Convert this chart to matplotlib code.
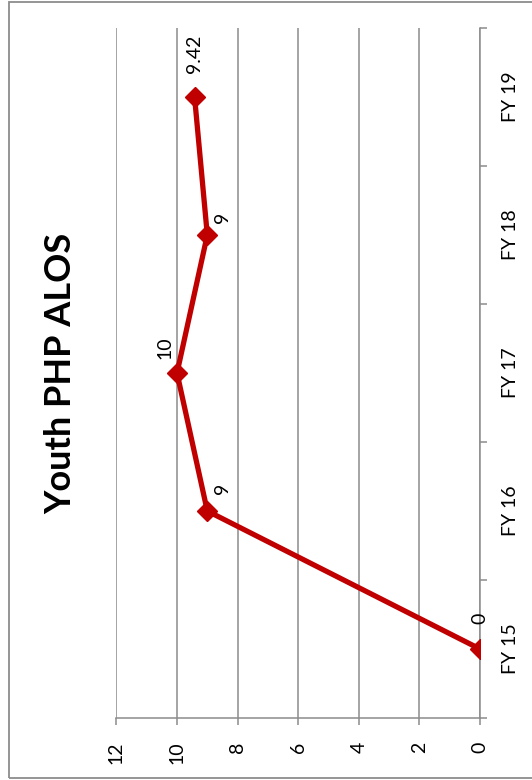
import matplotlib
matplotlib.use("Agg")
import matplotlib.pyplot as plt
from matplotlib.patches import Rectangle
import numpy as np

plt.rcParams['font.family'] = ['Lato', 'DejaVu Sans']

# data
years = ["FY 15", "FY 16", "FY 17", "FY 18", "FY 19"]
alos = [0, 9, 10, 9, 9.42]
labels = ["0", "9", "10", "9", "9.42"]
value_ticks = [0, 2, 4, 6, 8, 10, 12]

# label offsets in points (chart is drawn rotated 90 deg)
label_offsets = [(0, 22), (11, 16), (-9, 18), (11, 13), (0, 31)]

red = "#C00000"
grey = "#8C8C8C"

fig = plt.figure(figsize=(5.32, 7.80), dpi=100)
fig.patch.set_facecolor("white")

# outer chart border
fig.patches.append(Rectangle((9 / 532, 2 / 780), 1.0, 776 / 780, transform=fig.transFigure,
                             fill=False, edgecolor=grey, linewidth=1.3))

ax = fig.add_axes([116.4 / 532, 62 / 780, 363.6 / 532, 690 / 780])

pos = np.arange(len(years))
ax.plot(alos, pos, color=red, linewidth=3.8, marker="D", markersize=10,
        markeredgecolor=red, markerfacecolor=red, solid_joinstyle="round", zorder=3)

for v, p, t, off in zip(alos, pos, labels, label_offsets):
    ax.annotate(t, (v, p), xytext=off, textcoords="offset points", rotation=90,
                ha="center", va="center", fontsize=14, color="black")

ax.set_xlim(12, 0)
ax.set_ylim(-0.5, len(years) - 0.5)

# value axis (now horizontal at bottom)
ax.set_xticks(value_ticks)
ax.set_xticklabels([str(v) for v in value_ticks], rotation=90, va="top", fontsize=14)
ax.tick_params(axis="x", direction="out", length=5, width=1.1, color=grey, pad=12)
ax.grid(axis="x", color=grey, linewidth=1.1)
ax.set_axisbelow(True)

# category axis (now vertical at right)
ax.yaxis.tick_right()
ax.set_yticks(pos)
ax.set_yticklabels(years, rotation=90, va="center", ha="left", fontsize=14)
ax.set_yticks(np.arange(-0.5, len(years)), minor=True)
ax.tick_params(axis="y", which="major", length=0, pad=16)
ax.tick_params(axis="y", which="minor", direction="out", length=5, width=1.1, color=grey)

for s in ["top", "left"]:
    ax.spines[s].set_visible(False)
for s in ["bottom", "right"]:
    ax.spines[s].set_color(grey)
    ax.spines[s].set_linewidth(1.1)

fig.text(61 / 532, 1 - 373 / 780, "Youth PHP ALOS", rotation=90, ha="center", va="center",
         fontsize=26, fontweight="bold")

fig.savefig("out.png", dpi=100)
